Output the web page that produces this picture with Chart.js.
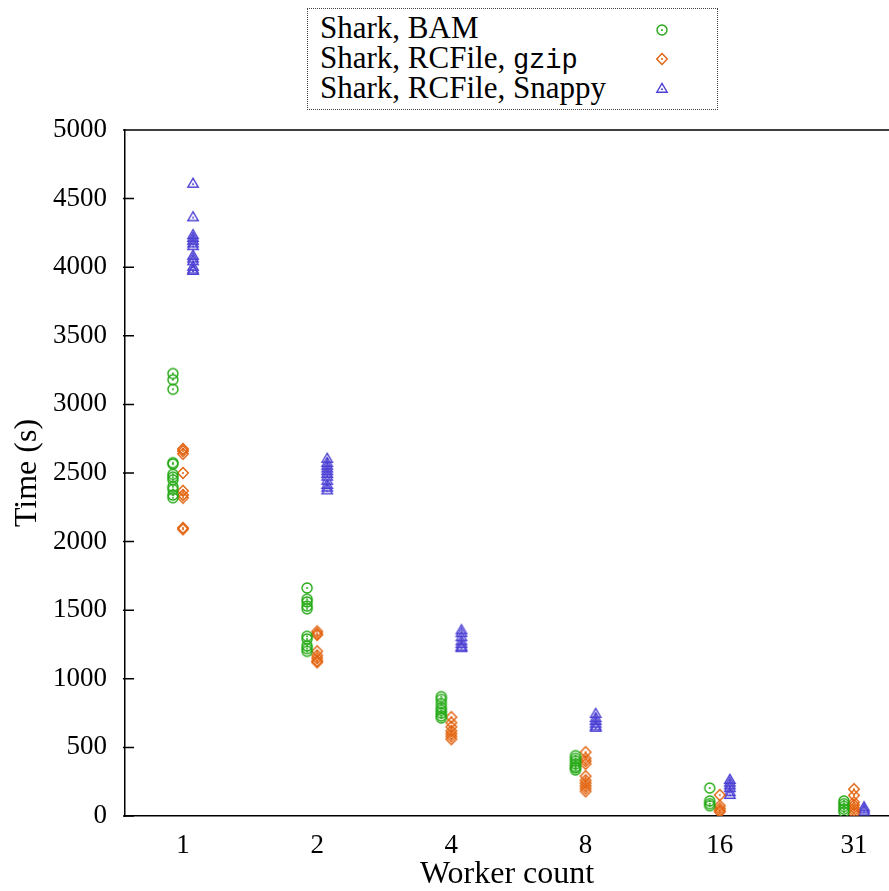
<!DOCTYPE html>
<html>
<head>
<meta charset="utf-8">
<script src="https://cdn.jsdelivr.net/npm/chart.js@4.4.1/dist/chart.umd.min.js"></script>
<style>
  html, body { margin: 0; padding: 0; background: #fff; }
  #wrap { position: relative; width: 889px; height: 891px; }
  #legend {
    position: absolute; left: 307px; top: 8px; width: 411px; height: 102px;
    box-sizing: border-box; border: 1px dotted #444; background: #fff;
    font-family: "Liberation Serif", serif; font-size: 31px; color: #000;
  }
  #legend .row { position: absolute; left: 12px; height: 30px; line-height: 30px; white-space: nowrap; }
  #legend .mono { font-family: "Liberation Mono", monospace; font-size: 27px; }
  #legend img { position: absolute; left: 347px; }
</style>
</head>
<body>
<div id="wrap">
  <canvas id="chart" width="889" height="891"></canvas>
  <div id="legend"></div>
</div>
<script>
// worker counts shown on the x axis
const workers = [1, 2, 4, 8, 16, 31];

// run times (s), one sub-array per worker count
const bamTimes = [
  [3225, 3180, 3110, 2575, 2565, 2490, 2470, 2450, 2400, 2380, 2340, 2320],
  [1662, 1580, 1560, 1530, 1510, 1310, 1290, 1240, 1220, 1200],
  [870, 850, 820, 790, 770, 750, 730, 715],
  [440, 420, 400, 380, 360, 350, 335],
  [204, 110, 90, 75],
  [110, 90, 70, 50, 30]
];
const gzipTimes = [
  [2675, 2660, 2640, 2500, 2370, 2340, 2320, 2100, 2090],
  [1345, 1330, 1320, 1200, 1170, 1150, 1130, 1120],
  [720, 680, 650, 620, 600, 580, 560],
  [465, 420, 400, 380, 290, 260, 240, 220, 200, 180],
  [153, 75, 55, 40, 30],
  [195, 150, 100, 80, 60, 40, 20]
];
const snappyTimes = [
  [4615, 4370, 4240, 4220, 4200, 4180, 4160, 4090, 4070, 4050, 4010, 3990, 3980],
  [2610, 2580, 2560, 2540, 2520, 2500, 2480, 2450, 2420, 2400, 2380],
  [1360, 1340, 1310, 1280, 1260, 1240, 1230],
  [750, 720, 700, 680, 660, 650],
  [270, 250, 230, 210, 180, 160],
  [70, 55, 40]
];

const yTicks = [0, 500, 1000, 1500, 2000, 2500, 3000, 3500, 4000, 4500, 5000];

const GREEN = '#22a812', ORANGE = '#e2620c', BLUE = '#4c40d4';

// small marker images: open shape with a dot in the middle
function marker(shape, color) {
  const c = document.createElement('canvas');
  c.width = 14; c.height = 14;
  const g = c.getContext('2d');
  g.strokeStyle = color; g.fillStyle = color; g.lineWidth = 1.4;
  g.beginPath();
  if (shape === 'circle') {
    g.arc(7, 7, 5, 0, Math.PI * 2);
  } else if (shape === 'diamond') {
    g.moveTo(7, 1.5); g.lineTo(12.3, 7); g.lineTo(7, 12.5); g.lineTo(1.7, 7); g.closePath();
  } else {
    g.moveTo(7, 2.3); g.lineTo(12.2, 11.2); g.lineTo(1.8, 11.2); g.closePath();
  }
  g.stroke();
  g.beginPath();
  g.arc(7, shape === 'triangle' ? 8.2 : 7, 1, 0, Math.PI * 2);
  g.fill();
  return c;
}

function points(groups, offset) {
  let out = [];
  groups.forEach(function (vals, i) {
    vals.forEach(function (v) { out.push({ x: i + offset, y: v }); });
  });
  return out;
}

const series = [
  { label: 'Shark, BAM', data: bamTimes, off: -0.075, shape: 'circle', color: GREEN },
  { label: 'Shark, RCFile, ', mono: 'gzip', data: gzipTimes, off: 0, shape: 'diamond', color: ORANGE },
  { label: 'Shark, RCFile, Snappy', data: snappyTimes, off: 0.075, shape: 'triangle', color: BLUE }
];

// legend in the dotted box
const legend = document.getElementById('legend');
series.forEach(function (s, i) {
  const row = document.createElement('div');
  row.className = 'row';
  row.style.top = (4 + i * 30) + 'px';
  row.textContent = s.label;
  if (s.mono) {
    const m = document.createElement('span');
    m.className = 'mono';
    m.textContent = s.mono;
    row.appendChild(m);
  }
  legend.appendChild(row);
  const img = document.createElement('img');
  img.src = marker(s.shape, s.color).toDataURL();
  img.style.top = (14 + i * 29) + 'px';
  legend.appendChild(img);
});

const SERIF = '"Liberation Serif", serif';

// top border and inward y ticks
const frame = {
  id: 'frame',
  afterDraw(chart) {
    const ctx = chart.ctx, a = chart.chartArea, y = chart.scales.y;
    ctx.save();
    ctx.strokeStyle = '#000';
    ctx.lineWidth = 1.5;
    ctx.beginPath();
    ctx.moveTo(a.left, a.top);
    ctx.lineTo(a.right, a.top);
    y.ticks.forEach(function (t) {
      const py = y.getPixelForValue(t.value);
      ctx.moveTo(a.left - 2, py);
      ctx.lineTo(a.left + 9, py);
    });
    ctx.stroke();
    ctx.restore();
  }
};

new Chart(document.getElementById('chart'), {
  type: 'scatter',
  data: {
    datasets: series.map(function (s) {
      return {
        label: s.label + (s.mono || ''),
        data: points(s.data, s.off),
        pointStyle: marker(s.shape, s.color),
        borderColor: s.color,
        backgroundColor: s.color
      };
    })
  },
  options: {
    responsive: false,
    animation: false,
    events: [],
    layout: { autoPadding: false, padding: { top: 130, right: 0, left: 0, bottom: 0 } },
    plugins: { legend: { display: false }, tooltip: { enabled: false } },
    scales: {
      x: {
        type: 'linear',
        min: -0.432,
        max: 5.261,
        afterBuildTicks: function (s) { s.ticks = workers.map(function (w, i) { return { value: i }; }); },
        afterFit: function (s) { s.height = 75; },
        grid: { display: false, drawTicks: false },
        border: { display: true, color: '#000', width: 1.5 },
        ticks: {
          padding: 14,
          color: '#000',
          font: { family: SERIF, size: 27 },
          callback: function (v) { return String(workers[v]); }
        },
        title: {
          display: true,
          text: 'Worker count',
          color: '#000',
          font: { family: SERIF, size: 32, lineHeight: 1 },
          padding: { top: 0, bottom: 0 }
        }
      },
      y: {
        min: 0,
        max: 5000,
        afterBuildTicks: function (s) { s.ticks = yTicks.map(function (v) { return { value: v }; }); },
        afterFit: function (s) { s.width = 125; },
        grid: { display: false, drawTicks: false },
        border: { display: true, color: '#000', width: 1.5 },
        ticks: {
          padding: 18,
          color: '#000',
          font: { family: SERIF, size: 27 },
          callback: function (v) { return String(v); }
        },
        title: {
          display: true,
          text: 'Time (s)',
          color: '#000',
          font: { family: SERIF, size: 32, lineHeight: 1 },
          padding: { top: 12, bottom: 0 }
        }
      }
    }
  },
  plugins: [frame]
});
</script>
</body>
</html>
